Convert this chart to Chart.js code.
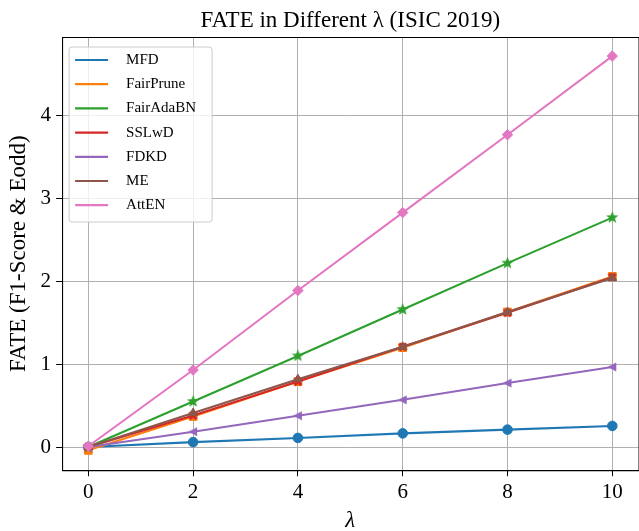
<!DOCTYPE html>
<html>
<head>
<meta charset="utf-8">
<script src="https://cdn.jsdelivr.net/npm/chart.js@4.4.1/dist/chart.umd.min.js"></script>
<style>
  html, body { margin: 0; padding: 0; background: #fff; }
  #wrap { width: 639px; height: 531px; overflow: hidden; }
</style>
</head>
<body>
<div id="wrap"><canvas id="myChart" width="645" height="531"></canvas></div>
<script>
// Datos
const lambdas = [0, 2, 4, 6, 8, 10];
const mfd       = [0.00, 0.06, 0.11, 0.165, 0.21, 0.255];
const fairPrune = [-0.04, 0.37, 0.79, 1.20, 1.63, 2.06];
const fairAdaBN = [0.00, 0.55, 1.10, 1.66, 2.22, 2.77];
const sslwd     = [0.00, 0.38, 0.79, 1.21, 1.62, 2.05];
const fdkd      = [0.00, 0.185, 0.378, 0.57, 0.773, 0.967];
const me        = [0.00, 0.41, 0.82, 1.21, 1.63, 2.04];
const atten     = [0.01, 0.93, 1.89, 2.83, 3.77, 4.72];

const seriesNames = ['MFD', 'FairPrune', 'FairAdaBN', 'SSLwD', 'FDKD', 'ME', 'AttEN'];
const seriesValues = [mfd, fairPrune, fairAdaBN, sslwd, fdkd, me, atten];
const seriesColors = ['#1f77b4', '#ff7f0e', '#2ca02c', '#d62728', '#9467bd', '#8c564b', '#e377c2'];
const yTicks = [0, 1, 2, 3, 4];

const SERIF = "'Liberation Serif', 'DejaVu Serif', serif";
Chart.defaults.font.family = SERIF;
Chart.defaults.color = '#000';

// Marcadores rellenos (estrella, X, triángulo izquierdo)
const makeMarker = (size, color, pathFn) => {
  const c = document.createElement('canvas');
  c.width = size; c.height = size;
  const g = c.getContext('2d');
  g.translate(size / 2, size / 2);
  g.fillStyle = color;
  g.beginPath();
  pathFn(g, size / 2);
  g.closePath();
  g.fill();
  return c;
};
const starPath = (g, r) => {
  for (let i = 0; i < 10; i++) {
    const rr = i % 2 ? r * 0.42 : r;
    const a = -Math.PI / 2 + i * Math.PI / 5;
    g.lineTo(rr * Math.cos(a), rr * Math.sin(a));
  }
};
const xPath = (g, r) => {
  const t = r * 0.32, s = r * 0.95;
  const pts = [[t, s], [t, t], [s, t], [s, -t], [t, -t], [t, -s], [-t, -s], [-t, -t], [-s, -t], [-s, t], [-t, t], [-t, s]];
  const k = Math.SQRT1_2;
  pts.forEach(([px, py]) => g.lineTo((px - py) * k, (px + py) * k));
};
const leftTriPath = (g, r) => {
  g.moveTo(-r * 0.95, 0);
  g.lineTo(r * 0.8, -r * 0.9);
  g.lineTo(r * 0.8, r * 0.9);
};

const markerStyles = [
  'circle',
  'rect',
  makeMarker(13, seriesColors[2], starPath),
  makeMarker(10, seriesColors[3], xPath),
  makeMarker(10, seriesColors[4], leftTriPath),
  'triangle',
  'rectRot'
];
const markerRadius = [4.8, 5.5, 5, 5, 5, 5, 5.2];

// Leyenda dentro del área del gráfico
const legendBox = {
  id: 'legendBox',
  afterDatasetsDraw(chart) {
    const c = chart.ctx;
    const area = chart.chartArea;
    const x = area.left + 7, y = area.top + 10, w = 143, h = 175;
    c.save();
    c.beginPath();
    c.roundRect(x, y, w, h, 3);
    c.fillStyle = 'rgba(255,255,255,0.8)';
    c.fill();
    c.strokeStyle = '#cccccc';
    c.lineWidth = 1;
    c.stroke();
    c.font = '15px ' + SERIF;
    c.textBaseline = 'middle';
    chart.data.datasets.forEach((ds, i) => {
      const ry = y + 13 + i * 24.2;
      c.strokeStyle = ds.borderColor;
      c.lineWidth = 2.2;
      c.beginPath();
      c.moveTo(x + 6, ry);
      c.lineTo(x + 39, ry);
      c.stroke();
      c.fillStyle = '#000';
      c.fillText(ds.label, x + 57, ry);
    });
    c.restore();
  }
};

// Marco del eje (arriba y derecha)
const frame = {
  id: 'frame',
  afterDraw(chart) {
    const { left, top, right, bottom } = chart.chartArea;
    const c = chart.ctx;
    c.save();
    c.strokeStyle = '#000';
    c.lineWidth = 1;
    c.strokeRect(left + 0.5, top + 0.5, right - left, bottom - top);
    c.restore();
  }
};

const ctx = document.getElementById('myChart').getContext('2d');
const chart = new Chart(ctx, {
  type: 'line',
  data: {
    datasets: seriesNames.map((name, i) => ({
      label: name,
      data: lambdas.map((l, j) => ({ x: l, y: seriesValues[i][j] })),
      borderColor: seriesColors[i],
      backgroundColor: seriesColors[i],
      pointBackgroundColor: seriesColors[i],
      pointBorderColor: seriesColors[i],
      pointBorderWidth: 1,
      pointStyle: markerStyles[i],
      pointRadius: markerRadius[i],
      borderWidth: 2.1,
      fill: false,
      tension: 0,
      order: seriesNames.length - i
    }))
  },
  options: {
    responsive: false,
    animation: false,
    events: [],
    layout: { padding: { left: 5, right: 4, top: 0, bottom: 0 } },
    plugins: {
      legend: { display: false },
      tooltip: { enabled: false },
      title: {
        display: true,
        text: 'FATE in Different λ (ISIC 2019)',
        fullSize: false,
        font: { size: 23, weight: 'normal', lineHeight: 1.2 },
        padding: { top: 7, bottom: 2.4 },
        color: '#000'
      }
    },
    scales: {
      x: {
        type: 'linear',
        min: -0.5,
        max: 10.5,
        ticks: { stepSize: 2, includeBounds: false, font: { size: 21 }, padding: 4, color: '#000' },
        grid: { color: '#b0b0b0', lineWidth: 1, tickLength: 6, tickColor: '#000' },
        border: { color: '#000', width: 1 },
        title: {
          display: true,
          text: 'λ',
          font: { size: 23, style: 'italic', lineHeight: 0.85 },
          padding: { top: 1.5, bottom: 0.5 },
          color: '#000'
        }
      },
      y: {
        type: 'linear',
        min: -0.28,
        max: 4.95,
        afterBuildTicks: (scale) => { scale.ticks = yTicks.map(v => ({ value: v })); },
        ticks: { font: { size: 21 }, padding: 5, color: '#000' },
        grid: { color: '#b0b0b0', lineWidth: 1, tickLength: 6, tickColor: '#000' },
        border: { color: '#000', width: 1 },
        title: {
          display: true,
          text: 'FATE (F1-Score & Eodd)',
          font: { size: 23, lineHeight: 1.2 },
          padding: { top: 0, bottom: 3 },
          color: '#000'
        }
      }
    }
  },
  plugins: [legendBox, frame]
});
</script>
</body>
</html>
